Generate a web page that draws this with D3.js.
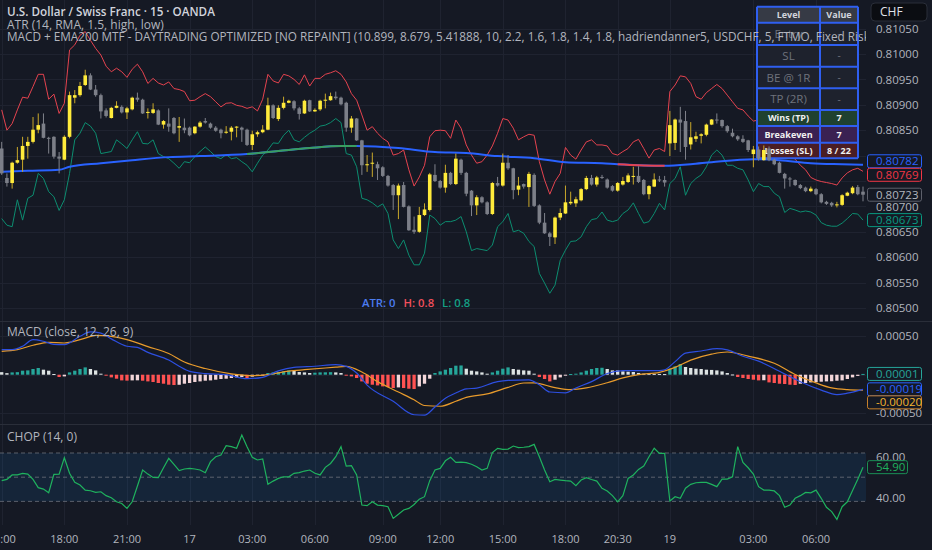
<!DOCTYPE html>
<html>
<head>
<meta charset="utf-8">
<script src="https://cdn.jsdelivr.net/npm/d3@7"></script>
<style>
  html, body { margin: 0; padding: 0; background: #151924; overflow: hidden; }
  svg { display: block; font-family: "Open Sans", "Noto Sans", sans-serif; }
</style>
</head>
<body>
<svg id="chart" width="932" height="550"></svg>
<script>
// ---- data (15m USDCHF) ----
const open = [0.80814,0.80756,0.80746,0.80786,0.80792,0.80819,0.80827,0.80851,0.80863,0.80835,
0.80837,0.80798,0.80792,0.80837,0.80914,0.80919,0.80939,0.80958,0.80930,0.80919,
0.80889,0.80874,0.80894,0.80896,0.80885,0.80891,0.80914,0.80910,0.80884,0.80884,
0.80889,0.80861,0.80863,0.80874,0.80855,0.80855,0.80855,0.80844,0.80857,0.80868,
0.80863,0.80855,0.80851,0.80845,0.80847,0.80855,0.80855,0.80851,0.80821,0.80842,
0.80846,0.80851,0.80899,0.80872,0.80894,0.80904,0.80907,0.80893,0.80883,0.80909,
0.80887,0.80891,0.80908,0.80909,0.80916,0.80914,0.80904,0.80855,0.80873,0.80830,
0.80781,0.80784,0.80783,0.80777,0.80760,0.80742,0.80722,0.80742,0.80700,0.80654,
0.80650,0.80683,0.80693,0.80762,0.80750,0.80737,0.80766,0.80744,0.80792,0.80766,
0.80731,0.80702,0.80718,0.80708,0.80685,0.80746,0.80741,0.80786,0.80775,0.80733,
0.80744,0.80738,0.80762,0.80702,0.80668,0.80647,0.80639,0.80678,0.80686,0.80706,
0.80706,0.80712,0.80734,0.80756,0.80743,0.80758,0.80753,0.80740,0.80731,0.80743,
0.80748,0.80758,0.80760,0.80752,0.80724,0.80739,0.80753,0.80752,0.80824,0.80825,
0.80871,0.80868,0.80822,0.80833,0.80839,0.80841,0.80861,0.80871,0.80870,0.80858,
0.80845,0.80838,0.80833,0.80830,0.80803,0.80812,0.80791,0.80814,0.80792,0.80786,
0.80764,0.80755,0.80752,0.80742,0.80737,0.80730,0.80734,0.80724,0.80709,0.80707,
0.80702,0.80703,0.80721,0.80726,0.80738,0.80729];

const high = [0.80827,0.80765,0.80788,0.80817,0.80837,0.80837,0.80876,0.80883,0.80883,0.80837,
0.80838,0.80807,0.80840,0.80926,0.80929,0.80945,0.80969,0.80962,0.80939,0.80922,
0.80893,0.80896,0.80907,0.80899,0.80896,0.80916,0.80924,0.80912,0.80893,0.80903,
0.80891,0.80870,0.80893,0.80876,0.80876,0.80873,0.80857,0.80858,0.80868,0.80874,
0.80865,0.80858,0.80853,0.80858,0.80858,0.80858,0.80857,0.80853,0.80849,0.80849,
0.80860,0.80914,0.80901,0.80899,0.80916,0.80910,0.80909,0.80896,0.80910,0.80910,
0.80893,0.80910,0.80922,0.80924,0.80926,0.80916,0.80906,0.80878,0.80874,0.80831,
0.80801,0.80806,0.80788,0.80779,0.80762,0.80744,0.80745,0.80748,0.80702,0.80680,
0.80699,0.80706,0.80766,0.80783,0.80752,0.80782,0.80768,0.80804,0.80794,0.80768,
0.80732,0.80722,0.80720,0.80710,0.80748,0.80758,0.80804,0.80801,0.80776,0.80758,
0.80745,0.80768,0.80765,0.80704,0.80687,0.80650,0.80680,0.80696,0.80741,0.80729,
0.80719,0.80736,0.80760,0.80762,0.80760,0.80762,0.80755,0.80742,0.80748,0.80758,
0.80765,0.80778,0.80779,0.80754,0.80742,0.80765,0.80760,0.80760,0.80888,0.80873,
0.80896,0.80888,0.80866,0.80847,0.80844,0.80863,0.80872,0.80883,0.80871,0.80860,
0.80853,0.80840,0.80840,0.80831,0.80819,0.80818,0.80820,0.80818,0.80794,0.80788,
0.80766,0.80758,0.80753,0.80744,0.80739,0.80739,0.80736,0.80726,0.80711,0.80709,
0.80709,0.80724,0.80729,0.80740,0.80742,0.80739];

const low = [0.80762,0.80739,0.80735,0.80784,0.80768,0.80794,0.80824,0.80844,0.80834,0.80804,
0.80794,0.80765,0.80791,0.80834,0.80903,0.80916,0.80937,0.80929,0.80916,0.80873,
0.80875,0.80873,0.80893,0.80883,0.80872,0.80889,0.80906,0.80882,0.80873,0.80882,
0.80860,0.80853,0.80847,0.80842,0.80827,0.80844,0.80838,0.80842,0.80855,0.80863,
0.80853,0.80847,0.80834,0.80843,0.80830,0.80836,0.80827,0.80819,0.80811,0.80837,
0.80844,0.80850,0.80872,0.80868,0.80891,0.80903,0.80889,0.80871,0.80882,0.80886,
0.80886,0.80888,0.80893,0.80908,0.80910,0.80899,0.80847,0.80845,0.80829,0.80762,
0.80768,0.80758,0.80752,0.80758,0.80739,0.80693,0.80675,0.80698,0.80652,0.80646,
0.80648,0.80681,0.80690,0.80748,0.80735,0.80727,0.80742,0.80742,0.80762,0.80720,
0.80681,0.80683,0.80706,0.80683,0.80683,0.80739,0.80739,0.80772,0.80714,0.80722,
0.80735,0.80699,0.80699,0.80665,0.80646,0.80622,0.80626,0.80673,0.80685,0.80703,
0.80699,0.80710,0.80732,0.80741,0.80739,0.80754,0.80735,0.80729,0.80729,0.80741,
0.80746,0.80743,0.80746,0.80722,0.80714,0.80738,0.80748,0.80739,0.80799,0.80811,
0.80807,0.80792,0.80812,0.80827,0.80824,0.80838,0.80860,0.80863,0.80855,0.80845,
0.80836,0.80829,0.80825,0.80807,0.80777,0.80790,0.80790,0.80789,0.80781,0.80765,
0.80735,0.80739,0.80740,0.80734,0.80728,0.80728,0.80722,0.80706,0.80703,0.80699,
0.80698,0.80701,0.80720,0.80724,0.80722,0.80710];

const close = [0.80765,0.80746,0.80786,0.80791,0.80819,0.80827,0.80851,0.80860,0.80835,0.80833,
0.80798,0.80794,0.80837,0.80919,0.80919,0.80937,0.80958,0.80930,0.80919,0.80887,
0.80878,0.80894,0.80898,0.80885,0.80893,0.80914,0.80910,0.80883,0.80886,0.80891,
0.80861,0.80868,0.80857,0.80844,0.80858,0.80850,0.80840,0.80857,0.80865,0.80865,
0.80855,0.80849,0.80844,0.80847,0.80855,0.80857,0.80851,0.80821,0.80842,0.80846,
0.80851,0.80899,0.80874,0.80894,0.80904,0.80908,0.80893,0.80882,0.80908,0.80887,
0.80890,0.80908,0.80910,0.80917,0.80913,0.80901,0.80855,0.80873,0.80830,0.80781,
0.80783,0.80786,0.80775,0.80760,0.80741,0.80722,0.80741,0.80699,0.80653,0.80650,
0.80683,0.80694,0.80763,0.80750,0.80737,0.80766,0.80744,0.80794,0.80766,0.80725,
0.80702,0.80718,0.80708,0.80685,0.80746,0.80741,0.80786,0.80775,0.80732,0.80741,
0.80739,0.80764,0.80701,0.80668,0.80647,0.80640,0.80678,0.80687,0.80708,0.80709,
0.80714,0.80734,0.80756,0.80743,0.80757,0.80756,0.80737,0.80731,0.80746,0.80750,
0.80761,0.80760,0.80748,0.80724,0.80740,0.80753,0.80751,0.80747,0.80860,0.80871,
0.80865,0.80817,0.80836,0.80838,0.80842,0.80861,0.80871,0.80869,0.80858,0.80848,
0.80838,0.80832,0.80827,0.80811,0.80812,0.80794,0.80811,0.80791,0.80783,0.80766,
0.80755,0.80753,0.80742,0.80736,0.80730,0.80735,0.80724,0.80708,0.80705,0.80702,
0.80704,0.80722,0.80727,0.80737,0.80724,0.80723];

// ATR bands (high + 1.5 ATR / low - 1.5 ATR)
const atrUpper = [0.80890,0.80850,0.80863,0.80890,0.80915,0.80913,0.80936,0.80960,0.80960,0.80911,
0.80921,0.80883,0.80903,0.81008,0.81018,0.81037,0.81044,0.81027,0.81011,0.80998,
0.80976,0.80965,0.80972,0.80965,0.80954,0.80970,0.80980,0.80965,0.80942,0.80952,
0.80943,0.80939,0.80945,0.80932,0.80930,0.80926,0.80908,0.80909,0.80916,0.80922,
0.80916,0.80906,0.80896,0.80903,0.80904,0.80899,0.80897,0.80893,0.80896,0.80888,
0.80911,0.80960,0.80947,0.80943,0.80960,0.80957,0.80950,0.80940,0.80959,0.80937,
0.80952,0.80952,0.80960,0.80963,0.80967,0.80960,0.80945,0.80922,0.80909,0.80880,
0.80850,0.80857,0.80844,0.80834,0.80827,0.80801,0.80804,0.80811,0.80772,0.80740,
0.80758,0.80781,0.80837,0.80849,0.80850,0.80849,0.80834,0.80870,0.80854,0.80821,
0.80801,0.80785,0.80788,0.80801,0.80819,0.80844,0.80873,0.80870,0.80854,0.80831,
0.80837,0.80842,0.80840,0.80788,0.80752,0.80724,0.80749,0.80765,0.80816,0.80801,
0.80793,0.80811,0.80827,0.80831,0.80821,0.80821,0.80819,0.80804,0.80801,0.80808,
0.80814,0.80827,0.80832,0.80814,0.80795,0.80811,0.80814,0.80808,0.80926,0.80939,
0.80957,0.80955,0.80942,0.80916,0.80911,0.80924,0.80932,0.80940,0.80932,0.80919,
0.80906,0.80893,0.80890,0.80878,0.80868,0.80870,0.80871,0.80871,0.80847,0.80831,
0.80811,0.80801,0.80793,0.80781,0.80772,0.80757,0.80752,0.80749,0.80747,0.80745,
0.80742,0.80756,0.80766,0.80772,0.80775,0.80769];

const atrLower = [0.80676,0.80663,0.80660,0.80713,0.80673,0.80716,0.80722,0.80765,0.80755,0.80729,
0.80719,0.80692,0.80713,0.80765,0.80831,0.80844,0.80865,0.80858,0.80844,0.80804,
0.80806,0.80808,0.80831,0.80823,0.80814,0.80831,0.80847,0.80824,0.80823,0.80831,
0.80804,0.80798,0.80794,0.80785,0.80775,0.80788,0.80786,0.80798,0.80808,0.80817,
0.80808,0.80798,0.80794,0.80802,0.80794,0.80796,0.80788,0.80781,0.80768,0.80785,
0.80801,0.80811,0.80825,0.80824,0.80840,0.80850,0.80831,0.80827,0.80836,0.80844,
0.80850,0.80858,0.80860,0.80865,0.80873,0.80865,0.80804,0.80801,0.80778,0.80716,
0.80713,0.80707,0.80699,0.80705,0.80686,0.80634,0.80617,0.80634,0.80604,0.80585,
0.80585,0.80608,0.80683,0.80676,0.80663,0.80670,0.80670,0.80673,0.80680,0.80650,
0.80613,0.80617,0.80615,0.80613,0.80624,0.80660,0.80670,0.80686,0.80650,0.80653,
0.80647,0.80631,0.80621,0.80568,0.80549,0.80529,0.80545,0.80594,0.80614,0.80631,
0.80632,0.80640,0.80660,0.80674,0.80676,0.80689,0.80673,0.80670,0.80673,0.80686,
0.80693,0.80707,0.80686,0.80667,0.80670,0.80686,0.80706,0.80693,0.80745,0.80755,
0.80778,0.80722,0.80745,0.80755,0.80762,0.80778,0.80801,0.80811,0.80801,0.80781,
0.80781,0.80775,0.80772,0.80752,0.80729,0.80745,0.80739,0.80739,0.80726,0.80719,
0.80688,0.80696,0.80693,0.80689,0.80691,0.80689,0.80683,0.80668,0.80663,0.80661,
0.80661,0.80667,0.80676,0.80686,0.80685,0.80673];

// EMA200 (MTF) read at key bars: [bar, value]
const ema200 = [[0,0.80768],[5,0.80770],[11,0.80772],[13,0.80778],[19,0.80785],[25,0.80791],
[32,0.80797],[38,0.80799],[47,0.80803],[53,0.80809],[59,0.80815],[65,0.80819],[68,0.80819],
[76,0.80815],[83,0.80807],[89,0.80805],[95,0.80799],[102,0.80795],[108,0.80787],[115,0.80785],
[118,0.80783],[122,0.80781],[127,0.80780],[132,0.80783],[136,0.80787],[144,0.80793],
[149,0.80791],[155,0.80785],[161,0.80783],[165,0.80782]];
// bar ranges where the EMA is painted bullish / bearish
const emaBull = [[47, 68]];
const emaBear = [[118, 127]];

// MACD (12, 26, 9)
const macdHist = [3.3e-5,2.0e-5,3.0e-5,3.3e-5,5.2e-5,5.6e-5,7.4e-5,8.7e-5,6.5e-5,5.2e-5,
0.9e-5,-3.0e-5,-2.2e-5,3.0e-5,5.2e-5,7.4e-5,9.5e-5,7.4e-5,5.6e-5,1.3e-5,
-1.3e-5,-3.5e-5,-5.2e-5,-7.4e-5,-7.7e-5,-7.4e-5,-7.3e-5,-7.8e-5,-8.7e-5,-9.5e-5,
-10.8e-5,-11.7e-5,-13.0e-5,-13.4e-5,-13.1e-5,-11.7e-5,-10.8e-5,-9.5e-5,-8.7e-5,-7.8e-5,
-7.4e-5,-6.5e-5,-5.6e-5,-5.2e-5,-4.3e-5,-3.5e-5,-3.0e-5,-4.3e-5,-2.6e-5,-1.7e-5,
-0.9e-5,2.2e-5,3.0e-5,3.5e-5,4.3e-5,5.6e-5,5.2e-5,3.5e-5,3.0e-5,2.2e-5,
2.6e-5,3.0e-5,3.1e-5,3.3e-5,3.0e-5,2.2e-5,-1.3e-5,-2.2e-5,-4.3e-5,-8.7e-5,
-11.7e-5,-13.0e-5,-13.9e-5,-15.2e-5,-16.0e-5,-17.3e-5,-16.5e-5,-17.3e-5,-18.2e-5,-18.6e-5,
-15.2e-5,-11.7e-5,-5.2e-5,2.2e-5,4.3e-5,6.5e-5,8.7e-5,11.7e-5,12.0e-5,7.8e-5,
5.2e-5,4.3e-5,3.0e-5,1.3e-5,3.0e-5,5.2e-5,7.8e-5,9.5e-5,7.4e-5,6.5e-5,
5.6e-5,5.2e-5,1.3e-5,-3.0e-5,-5.6e-5,-8.7e-5,-6.5e-5,-3.5e-5,-0.9e-5,0.9e-5,
1.3e-5,3.0e-5,5.2e-5,7.4e-5,8.7e-5,9.0e-5,7.4e-5,5.6e-5,5.5e-5,4.3e-5,
3.9e-5,3.5e-5,2.3e-5,1.3e-5,1.2e-5,1.1e-5,1.0e-5,0.8e-5,7.8e-5,10.8e-5,
13.9e-5,10.0e-5,8.7e-5,7.8e-5,7.4e-5,6.5e-5,6.2e-5,5.6e-5,4.3e-5,2.2e-5,
0.3e-5,-3.0e-5,-4.3e-5,-5.6e-5,-6.5e-5,-7.4e-5,-7.2e-5,-10.0e-5,-10.8e-5,-11.7e-5,
-12.1e-5,-13.0e-5,-13.4e-5,-11.7e-5,-10.8e-5,-10.0e-5,-9.5e-5,-9.1e-5,-8.7e-5,-8.5e-5,
-7.8e-5,-7.4e-5,-5.6e-5,-3.5e-5,-1.6e-5,1.0e-5];

// MACD and signal lines read at key bars: [bar, value]
const macdLine = [[0,32.6e-5],[2,32.6e-5],[4,37e-5],[6,45.6e-5],[8,43.4e-5],[10,39.5e-5],[12,39.1e-5],
[15,49.9e-5],[17,55.5e-5],[19,54e-5],[21,46.5e-5],[24,36.9e-5],[26,35.4e-5],[28,29e-5],[32,19e-5],
[34,11e-5],[36,4.4e-5],[39,1.5e-5],[43,0.1e-5],[47,-5.1e-5],[50,-3.4e-5],[53,5e-5],[56,9.6e-5],
[60,11e-5],[64,13.1e-5],[66,10.9e-5],[68,2.3e-5],[70,-13.5e-5],[75,-34.6e-5],[79,-52e-5],
[81,-52.5e-5],[83,-42e-5],[85,-30.5e-5],[87,-23.7e-5],[89,-18.5e-5],[91,-17.4e-5],[95,-9e-5],
[97,-7.3e-5],[101,-6.6e-5],[103,-13e-5],[105,-22.5e-5],[108,-23.5e-5],[110,-17.2e-5],[113,-9e-5],
[116,1.5e-5],[119,5.3e-5],[122,5.3e-5],[126,5.3e-5],[127,6.4e-5],[129,17e-5],[131,28e-5],
[134,30.8e-5],[137,33.9e-5],[139,32.3e-5],[142,23.9e-5],[145,17.6e-5],[149,4.4e-5],[153,-9.2e-5],
[157,-20e-5],[160,-25.9e-5],[162,-24e-5],[165,-19e-5]];
const signalLine = [[0,30.4e-5],[3,32.6e-5],[6,38.2e-5],[9,42e-5],[12,41.2e-5],[16,47.5e-5],[18,51.2e-5],
[21,49.7e-5],[24,45.5e-5],[28,36.5e-5],[32,27.5e-5],[35,16.5e-5],[39,8e-5],[44,1.1e-5],[48,-1.2e-5],
[51,0.2e-5],[55,4.6e-5],[58,6.5e-5],[64,9.8e-5],[66,10.9e-5],[69,3.5e-5],[72,-9e-5],[76,-22.5e-5],
[79,-32.6e-5],[81,-40e-5],[84,-41e-5],[87,-34.5e-5],[89,-29.4e-5],[93,-25e-5],[97,-16.5e-5],
[100,-10.8e-5],[102,-10.7e-5],[106,-16.8e-5],[109,-19.4e-5],[112,-17.2e-5],[116,-10.4e-5],
[119,-4.2e-5],[122,0.1e-5],[126,3.1e-5],[129,9.5e-5],[132,19e-5],[136,26.7e-5],[139,29.5e-5],
[143,24.2e-5],[148,14.8e-5],[152,0.3e-5],[156,-10.7e-5],[159,-17.2e-5],[162,-19.4e-5],[165,-20e-5]];

// Choppiness index (14)
const chop = [48.3,48.9,51.1,51.1,51.9,51.5,48.9,44.9,44.2,42.4,
51.4,51.5,59.5,51.9,47.5,46.2,43.7,43.4,42.6,42.9,
41.0,40.0,38.0,37.2,34.8,38.0,45.7,53.5,51.5,49.9,
49.8,54.6,59.2,56.3,53.2,54.0,54.3,54.0,53.5,52.2,
57.6,60.0,60.8,65.4,64.9,64.1,70.6,64.9,59.7,58.4,
58.9,46.5,48.1,49.4,50.2,50.2,51.9,52.2,53.0,53.5,
51.9,51.1,54.8,56.7,60.0,64.9,55.4,55.6,51.1,36.4,
36.1,38.0,36.4,36.1,35.6,29.9,31.9,34.0,34.8,36.7,
39.3,40.5,48.3,53.5,54.3,58.0,59.7,57.2,57.4,57.1,
56.3,55.1,53.5,54.3,62.0,64.1,63.6,63.7,65.2,64.4,
64.6,64.9,66.0,60.0,53.5,47.8,48.9,48.6,48.3,48.1,
45.9,48.6,49.8,48.9,48.1,44.6,43.3,41.0,38.0,41.0,
49.4,51.1,53.8,55.4,60.0,64.1,61.6,61.6,38.4,40.5,
39.7,44.6,46.5,47.3,47.5,47.5,46.5,45.4,49.1,49.1,
50.2,64.9,57.2,54.6,51.5,45.4,43.7,43.7,43.3,41.0,
35.3,36.4,39.7,41.0,42.6,42.4,43.7,39.7,35.3,33.2,
29.4,35.6,38.0,43.5,49.0,54.9];
const chopBands = [38.2, 50, 61.8];

// axes
const priceTicks = [0.805,0.8055,0.806,0.8065,0.807,0.8075,0.808,0.8085,0.809,0.8095,0.81,0.8105];
const macdTicks = [-0.0005, 0.0005];
const chopTicks = [40, 60];
const timeTicks = [[0,"15:00"],[12,"18:00"],[24,"21:00"],[36,"17"],[48,"03:00"],[60,"06:00"],
[73,"09:00"],[84,"12:00"],[96,"15:00"],[108,"18:00"],[118,"20:30"],[128,"19"],[144,"03:00"],[156,"06:00"]];

// strategy stats table
const tableLevels = ["Level","Entry","SL","BE @ 1R","TP (2R)","Wins (TP)","Breakeven","Losses (SL)"];
const tableValues = ["Value","-","-","-","-","7","7","8 / 22"];

const legendLines = [
  "U.S. Dollar / Swiss Franc · 15 · OANDA",
  "ATR (14, RMA, 1.5, high, low)",
  "MACD + EMA200 MTF - DAYTRADING OPTIMIZED [NO REPAINT] (10.899, 8.679, 5.41888, 10, 2.2, 1.6, 1.8, 1.4, 1.8, hadriendanner5, USDCHF, 5, FTMO, Fixed Risk, 1)"
];
const atrStatus = [["ATR: 0","#4c7cf0"],["H: 0.8","#f0505c"],["L: 0.8","#14a085"]];

// ---- layout ----
const W = 932, H = 550, plotW = 866, axisX = 876, bg = "#151924";
const svg = d3.select("#chart");
const n = close.length;

const x = d3.scaleLinear().domain([0, n - 1]).range([1.7, 863]);
const yP = d3.scaleLinear().domain([0.805, 0.8105]).range([308, 28.6]);
const yM = d3.scaleLinear().domain([-0.0005, 0.0005]).range([413.2, 336.2]);
const yC = d3.scaleLinear().domain([40, 60]).range([497.7, 456.7]);

svg.append("rect").attr("width", W).attr("height", H).attr("fill", bg);

const defs = svg.append("defs");
[["clipMain", 0, 0, plotW, 321], ["clipMacd", 0, 322, plotW, 102],
 ["clipChop", 0, 425, plotW, 100], ["clipLegend", 0, 0, plotW, 60]].forEach(([id, x0, y0, w, h]) => {
  defs.append("clipPath").attr("id", id)
    .append("rect").attr("x", x0).attr("y", y0).attr("width", w).attr("height", h);
});

// grid
const grid = svg.append("g").attr("stroke", "#1f2330").attr("stroke-width", 1);
grid.selectAll("line.v").data(timeTicks).join("line")
  .attr("x1", d => Math.round(x(d[0])) + 0.5).attr("x2", d => Math.round(x(d[0])) + 0.5)
  .attr("y1", 0).attr("y2", 525);
grid.selectAll("line.hp").data(priceTicks).join("line")
  .attr("x1", 0).attr("x2", plotW)
  .attr("y1", d => Math.round(yP(d)) + 0.5).attr("y2", d => Math.round(yP(d)) + 0.5);
grid.selectAll("line.hm").data(macdTicks.concat([0])).join("line")
  .attr("x1", 0).attr("x2", plotW)
  .attr("y1", d => Math.round(yM(d)) + 0.5).attr("y2", d => Math.round(yM(d)) + 0.5);

// pane separators
svg.append("g").attr("stroke", "#2a2e39").selectAll("line").data([321.5, 424.5]).join("line")
  .attr("x1", 0).attr("x2", W).attr("y1", d => d).attr("y2", d => d);

// ---- main pane ----
const main = svg.append("g").attr("clip-path", "url(#clipMain)");
const bandLine = d3.line().x((d, i) => x(i)).y(d => yP(d));
main.append("path").attr("d", bandLine(atrUpper)).attr("fill", "none")
  .attr("stroke", "#e5434f").attr("stroke-width", 1);
main.append("path").attr("d", bandLine(atrLower)).attr("fill", "none")
  .attr("stroke", "#0c8d70").attr("stroke-width", 1);

const emaLine = d3.line().curve(d3.curveMonotoneX).x(d => x(d[0])).y(d => yP(d[1]));
main.append("path").attr("d", emaLine(ema200)).attr("fill", "none")
  .attr("stroke", "#2962ff").attr("stroke-width", 2);
function emaPiece(range, color) {
  const pts = ema200.filter(d => d[0] >= range[0] && d[0] <= range[1]);
  main.append("path").attr("d", emaLine(pts)).attr("fill", "none")
    .attr("stroke", color).attr("stroke-width", 2);
}
emaBull.forEach(r => emaPiece(r, "#3a9d60"));
emaBear.forEach(r => emaPiece(r, "#e5434f"));

// stats table (drawn under the candles, like the screenshot)
const tb = svg.append("g");
const colX = [757, 820, 858];
const rowY = [6.7, 22.7, 45, 66.7, 88.3, 110, 126, 142.7, 158.3];
const rowFill = ["#363a45", "#1e222d", "#1e222d", "#1e222d", "#1e222d", "#1f4130", "#3a2152", "#4a1d24"];
tableLevels.forEach((lv, r) => {
  const y0 = rowY[r], y1 = rowY[r + 1], cy = (y0 + y1) / 2;
  tb.append("rect").attr("x", colX[0]).attr("y", y0).attr("width", colX[2] - colX[0])
    .attr("height", y1 - y0).attr("fill", rowFill[r]);
  const strong = r === 0 || r >= 5;
  const col = r === 0 ? "#d1d4dc" : strong ? "#f0f0f0" : "#6f727c";
  const fs = strong ? 9 : 11.5;
  tb.append("text").attr("x", (colX[0] + colX[1]) / 2).attr("y", cy).attr("dy", "0.36em")
    .attr("text-anchor", "middle").attr("font-size", fs).attr("font-weight", strong ? 700 : 400)
    .attr("fill", col).text(lv);
  tb.append("text").attr("x", (colX[1] + colX[2]) / 2).attr("y", cy).attr("dy", "0.36em")
    .attr("text-anchor", "middle").attr("font-size", strong ? 9 : 10).attr("font-weight", strong ? 700 : 400)
    .attr("fill", col).text(tableValues[r]);
});
const tbBorder = tb.append("g").attr("stroke", "#2f5ff0").attr("stroke-width", 2).attr("fill", "none");
rowY.forEach(y => tbBorder.append("line").attr("x1", colX[0]).attr("x2", colX[2]).attr("y1", y).attr("y2", y));
colX.forEach(cx => tbBorder.append("line").attr("x1", cx).attr("x2", cx).attr("y1", rowY[0]).attr("y2", rowY[rowY.length - 1]));

// candles
const candles = svg.append("g").attr("clip-path", "url(#clipMain)");
const bw = 3.6;
d3.range(n).forEach(i => {
  const up = close[i] >= open[i];
  const g = candles.append("g");
  g.append("line").attr("x1", x(i)).attr("x2", x(i))
    .attr("y1", yP(high[i])).attr("y2", yP(low[i]))
    .attr("stroke", up ? "#c9a82a" : "#80838c").attr("stroke-width", 1);
  const yt = yP(Math.max(open[i], close[i])), yb = yP(Math.min(open[i], close[i]));
  g.append("rect").attr("x", x(i) - bw / 2).attr("y", yt)
    .attr("width", bw).attr("height", Math.max(1, yb - yt))
    .attr("fill", up ? "#ffeb3b" : "#7c7f88");
});

// ATR status line
let sx = 362;
atrStatus.forEach(([t, c]) => {
  const el = svg.append("text").attr("x", sx).attr("y", 306.5).attr("font-size", 11.3)
    .attr("font-weight", 600).attr("fill", c).text(t);
  sx += el.node().getComputedTextLength() + 8;
});

// ---- MACD pane ----
const macdG = svg.append("g").attr("clip-path", "url(#clipMacd)");
function histColor(v, prev) {
  const rising = prev !== undefined && v > prev;
  const falling = prev !== undefined && v < prev;
  if (v >= 0) return rising ? "#26a69a" : "#dde3e3";
  return falling ? "#ff5252" : "#f3d6d9";
}
const hw = 3.3;
macdG.selectAll("rect").data(macdHist).join("rect")
  .attr("x", (d, i) => x(i) - hw / 2).attr("width", hw)
  .attr("y", d => Math.min(yM(d), yM(0)))
  .attr("height", d => Math.max(1, Math.abs(yM(d) - yM(0))))
  .attr("fill", (d, i) => histColor(d, macdHist[i - 1]));
const kLine = d3.line().curve(d3.curveMonotoneX).x(d => x(d[0])).y(d => yM(d[1]));
macdG.append("path").attr("d", kLine(signalLine)).attr("fill", "none")
  .attr("stroke", "#e89b2c").attr("stroke-width", 1.2);
macdG.append("path").attr("d", kLine(macdLine)).attr("fill", "none")
  .attr("stroke", "#2d4fe0").attr("stroke-width", 1.2);

// ---- CHOP pane ----
const chopG = svg.append("g").attr("clip-path", "url(#clipChop)");
chopG.append("rect").attr("x", 0).attr("width", plotW)
  .attr("y", yC(chopBands[2])).attr("height", yC(chopBands[0]) - yC(chopBands[2]))
  .attr("fill", "#2196f3").attr("fill-opacity", 0.1);
chopG.selectAll("line").data(chopBands).join("line")
  .attr("x1", 0).attr("x2", plotW).attr("y1", d => yC(d)).attr("y2", d => yC(d))
  .attr("stroke", "#6d717c").attr("stroke-dasharray", "4,3").attr("stroke-opacity", 0.8);
chopG.append("path").attr("d", d3.line().x((d, i) => x(i)).y(d => yC(d))(chop))
  .attr("fill", "none").attr("stroke", "#1fb25e").attr("stroke-width", 1.2);

// ---- right scale ----
const axisG = svg.append("g").attr("font-size", 11.5).attr("fill", "#b2b5be");
function valueLabel(yc, txt, col, txtCol, w) {
  const g = svg.append("g");
  g.append("rect").attr("x", 867.5).attr("y", yc - 6.5).attr("width", w || 54).attr("height", 13)
    .attr("rx", 2).attr("fill", bg).attr("stroke", col).attr("stroke-width", 1);
  g.append("text").attr("x", axisX).attr("y", yc).attr("dy", "0.36em").attr("font-size", 11.5)
    .attr("fill", txtCol || col).text(txt);
}
function spread(items, gap) {
  items.sort((a, b) => a.y - b.y);
  for (let k = 0; k < 40; k++) {
    for (let j = 1; j < items.length; j++) {
      const d = items[j].y - items[j - 1].y;
      if (d < gap) { const s = (gap - d) / 2; items[j].y += s; items[j - 1].y -= s; }
    }
  }
  return items;
}
const mainLabels = spread([
  { v: ema200[ema200.length - 1][1], y: yP(ema200[ema200.length - 1][1]), c: "#2962ff" },
  { v: atrUpper[n - 1], y: yP(atrUpper[n - 1]), c: "#f23645" },
  { v: close[n - 1], y: yP(close[n - 1]), c: "#5d606b", t: "#b2b5be" },
  { v: atrLower[n - 1], y: yP(atrLower[n - 1]), c: "#089981" }
], 13.5);
axisG.selectAll("text.p").data(priceTicks.filter(p => yP(p) > 26 && mainLabels.every(l => Math.abs(l.y - yP(p)) > 7)))
  .join("text").attr("x", axisX).attr("y", d => yP(d)).attr("dy", "0.36em").text(d => d.toFixed(5));
mainLabels.forEach(l => valueLabel(l.y, l.v.toFixed(5), l.c, l.t));

axisG.selectAll("text.m").data(macdTicks).join("text").attr("x", axisX)
  .attr("y", d => yM(d)).attr("dy", "0.36em").text(d => d.toFixed(5));
// macd labels: later ones get pushed down
const macdLabels = [
  { v: macdHist[n - 1], c: "#26a69a" },
  { v: macdLine[macdLine.length - 1][1], c: "#2962ff" },
  { v: signalLine[signalLine.length - 1][1], c: "#c7802a", t: "#f5b52e" }
];
let lastY = -Infinity;
macdLabels.forEach(l => {
  l.y = Math.max(yM(l.v), lastY + 13);
  lastY = l.y;
  valueLabel(l.y, l.v.toFixed(5), l.c, l.t);
});

axisG.selectAll("text.c").data(chopTicks).join("text").attr("x", axisX)
  .attr("y", d => yC(d)).attr("dy", "0.36em").text(d => d.toFixed(2));
valueLabel(yC(chop[n - 1]), chop[n - 1].toFixed(2), "#1a8f55", "#1fb25e", 40);

// currency badge
svg.append("rect").attr("x", 871).attr("y", 3).attr("width", 56).attr("height", 18).attr("rx", 4)
  .attr("fill", "#0b0d12").attr("stroke", "#2a2e39");
svg.append("text").attr("x", 880).attr("y", 12).attr("dy", "0.36em").attr("font-size", 12)
  .attr("fill", "#e0e3eb").text("CHF");

// time axis
svg.append("g").attr("font-size", 11).attr("fill", "#b2b5be").attr("text-anchor", "middle")
  .selectAll("text").data(timeTicks).join("text")
  .attr("x", d => x(d[0])).attr("y", 543).text(d => d[1]);

// ---- legends ----
const leg = svg.append("g").attr("clip-path", "url(#clipLegend)");
const t1 = leg.append("text").attr("x", 7).attr("y", 16).attr("font-size", 12)
  .attr("font-weight", 600).attr("fill", "#d1d4dc").text(legendLines[0]);
t1.attr("font-size", 12 * 208 / t1.node().getComputedTextLength());
const t2 = leg.append("text").attr("x", 7).attr("y", 28.5).attr("font-size", 12)
  .attr("fill", "#b2b5be").text(legendLines[1]);
const fsSmall = 12 * 157 / t2.node().getComputedTextLength();
t2.attr("font-size", fsSmall);
leg.append("text").attr("x", 7).attr("y", 41).attr("font-size", fsSmall * 0.98)
  .attr("fill", "#b2b5be").text(legendLines[2]);

svg.append("text").attr("x", 7).attr("y", 336).attr("font-size", fsSmall)
  .attr("fill", "#b2b5be").text("MACD (close, 12, 26, 9)");
svg.append("text").attr("x", 7).attr("y", 440.5).attr("font-size", fsSmall)
  .attr("fill", "#b2b5be").text("CHOP (14, 0)");
</script>
</body>
</html>
